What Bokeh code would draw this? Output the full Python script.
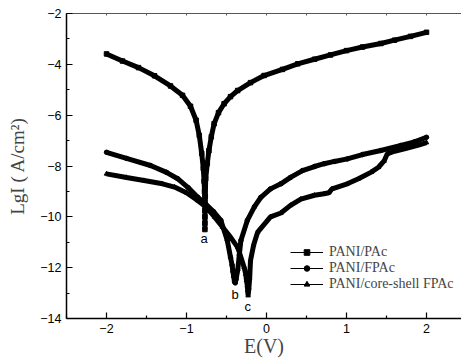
from bokeh.plotting import figure
from bokeh.models import FixedTicker, LinearAxis, Label, Legend, LegendItem, ColumnDataSource
from bokeh.embed import file_html
from bokeh.resources import INLINE

# ---- data ----
a_E = [-2.0, -1.8, -1.6, -1.4, -1.2, -1.05, -0.95, -0.88, -0.84, -0.81, -0.79, -0.78,
       -0.775, -0.772, -0.77, -0.77, -0.77, -0.77, -0.765,
       -0.76, -0.74, -0.72, -0.69, -0.655, -0.6, -0.53, -0.45, -0.36, -0.2, -0.03,
       0.2, 0.39, 0.6, 0.8, 1.0, 1.2, 1.43, 1.6, 1.8, 2.0]
a_y = [-3.59, -3.87, -4.13, -4.45, -4.85, -5.22, -5.65, -6.2, -6.8, -7.5, -8.1, -8.6,
       -9.0, -9.4, -9.75, -10.0, -10.25, -10.5, -9.2,
       -8.5, -7.9, -7.4, -6.85, -6.34, -5.9, -5.55, -5.27, -5.03, -4.72, -4.44,
       -4.2, -3.98, -3.8, -3.63, -3.46, -3.32, -3.18, -3.05, -2.9, -2.74]

b_E = [-2.0, -1.75, -1.45, -1.25, -1.11, -0.98, -0.86, -0.76, -0.66, -0.57, -0.49, -0.45,
       -0.43, -0.42, -0.41, -0.40, -0.39, -0.38, -0.36, -0.34, -0.32, -0.24, -0.15, -0.07,
       0.05, 0.18, 0.3, 0.45, 0.6, 0.72, 0.85, 1.01, 1.2, 1.43, 1.68, 1.85, 2.0]
b_y = [-7.46, -7.7, -7.98, -8.25, -8.5, -8.85, -9.23, -9.5, -9.8, -10.14, -10.93, -11.59,
       -11.9, -12.15, -12.35, -12.55, -12.6, -12.45, -12.1, -11.5, -10.93, -10.14, -9.6, -9.23,
       -8.9, -8.7, -8.45, -8.18, -8.02, -7.91, -7.82, -7.72, -7.55, -7.39, -7.19, -7.05, -6.87]

c_E = [-2.0, -1.75, -1.53, -1.3, -1.15, -1.0, -0.86, -0.76, -0.65, -0.55, -0.45, -0.36,
       -0.28, -0.26, -0.25, -0.24, -0.235, -0.23, -0.22, -0.21, -0.2, -0.16, -0.11,
       0.05, 0.18, 0.3, 0.43, 0.6, 0.72, 0.78, 0.82, 1.01, 1.15, 1.31, 1.4, 1.47, 1.51,
       1.6, 1.75, 1.9, 2.0]
c_y = [-8.31, -8.45, -8.57, -8.7, -8.83, -9.05, -9.36, -9.6, -10.0, -10.4, -10.8, -11.2,
       -11.98, -12.25, -12.5, -12.7, -12.9, -13.1, -12.8, -12.4, -11.72, -11.1, -10.6,
       -10.0, -9.85, -9.55, -9.3, -9.15, -9.09, -9.05, -8.9, -8.7, -8.5, -8.24, -8.05, -7.8, -7.52,
       -7.42, -7.3, -7.18, -7.08]

series_names = ["PANI/PAc", "PANI/FPAc", "PANI/core-shell FPAc"]
series_markers = ["square", "circle", "triangle"]
curve_labels = ["a", "b", "c"]
label_E = [-0.78, -0.393, -0.234]
label_y = [-10.86, -13.07, -13.53]

x_ticks = [-2, -1, 0, 1, 2]
x_minor = [-2.5, -1.5, -0.5, 0.5, 1.5, 2.5]
top_ticks = [-2.5, -2, -1.5, -1, -0.5, 0, 0.5, 1, 1.5, 2, 2.5]
y_ticks = [-14, -12, -10, -8, -6, -4, -2]
y_minor = [-13, -11, -9, -7, -5, -3]

SERIF = "Liberation Serif"
SANS = "Liberation Sans"

p = figure(width=461, height=361, x_range=(-2.5, 2.4375), y_range=(-14, -2),
           output_backend="svg", toolbar_location=None,
           min_border_left=66, min_border_right=0, min_border_top=13, min_border_bottom=43)
p.grid.visible = False
p.outline_line_color = None
p.background_fill_color = "white"
p.border_fill_color = "white"

for ax in (p.xaxis[0], p.yaxis[0]):
    ax.axis_line_width = 1.5
    ax.axis_line_color = "black"
    ax.major_tick_line_color = "black"
    ax.minor_tick_line_color = "black"
    ax.major_tick_line_width = 1.2
    ax.minor_tick_line_width = 1.2
    ax.major_tick_in = 6
    ax.major_tick_out = 0
    ax.minor_tick_in = 3
    ax.minor_tick_out = 0
    ax.major_label_text_font = SANS
    ax.major_label_text_font_size = "12.5px"
    ax.major_label_text_color = "black"
    ax.major_label_standoff = 5

p.xaxis[0].ticker = FixedTicker(ticks=x_ticks, minor_ticks=x_minor)
p.yaxis[0].ticker = FixedTicker(ticks=y_ticks, minor_ticks=y_minor)

p.yaxis[0].axis_label = "LgI ( A/cm\u00b2)"
p.yaxis[0].axis_label_text_font = SERIF
p.yaxis[0].axis_label_text_font_style = "normal"
p.yaxis[0].axis_label_text_font_size = "19px"
p.yaxis[0].axis_label_standoff = 9

p.xaxis[0].axis_label = "E(V)"
p.xaxis[0].axis_label_text_font = SERIF
p.xaxis[0].axis_label_text_font_style = "normal"
p.xaxis[0].axis_label_text_font_size = "20px"
p.xaxis[0].axis_label_standoff = -1

top = LinearAxis(ticker=FixedTicker(ticks=[], minor_ticks=top_ticks))
top.axis_line_color = "#555555"
top.axis_line_width = 1
top.major_tick_in = 0
top.major_tick_out = 0
top.minor_tick_in = 2
top.minor_tick_out = 0
top.minor_tick_line_color = "#555555"
top.major_label_standoff = 0
p.add_layout(top, "above")

nan = float("nan")
data = [(a_E, a_y), (b_E, b_y), (c_E, c_y)]
items = []
for (xs, ys), name, mk in zip(data, series_names, series_markers):
    src = ColumnDataSource(dict(x=xs, y=ys))
    p.line("x", "y", source=src, line_color="black", line_width=5)
    p.scatter("x", "y", source=src, marker=mk, size=4.5, fill_color="black", line_color="black")
    dummy = ColumnDataSource(dict(x=[nan], y=[nan]))
    lr = p.line("x", "y", source=dummy, line_color="black", line_width=1)
    sr = p.scatter("x", "y", source=dummy, marker=mk, size=5, fill_color="black", line_color="black")
    items.append(LegendItem(label=name, renderers=[lr, sr]))

legend = Legend(items=items, location=(224, 26), padding=0, margin=0, spacing=-3,
                glyph_width=33, glyph_height=14, label_height=14, label_standoff=6,
                label_text_font=SERIF, label_text_font_size="14px",
                border_line_color=None, background_fill_alpha=0)
p.add_layout(legend, "center")

for t, xe, ye in zip(curve_labels, label_E, label_y):
    p.add_layout(Label(x=xe, y=ye, text=t, text_font=SANS, text_font_size="13px",
                       text_align="center", text_baseline="middle", text_color="black"))

open("out.html", "w").write(file_html(p, INLINE))
